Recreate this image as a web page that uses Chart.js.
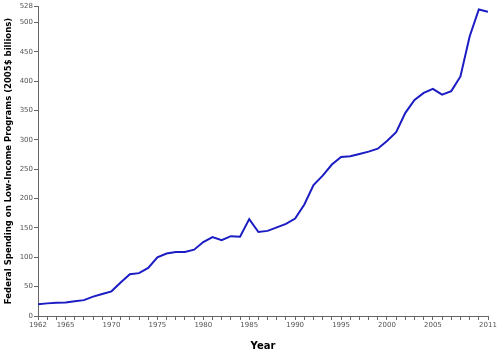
<!DOCTYPE html>
<html>
<head>
<meta charset="utf-8">
<script src="https://cdn.jsdelivr.net/npm/chart.js@4/dist/chart.umd.min.js"></script>
<style>
  html, body { margin: 0; padding: 0; background: #fff; }
  #wrap { width: 503px; height: 359px; }
</style>
</head>
<body>
<div id="wrap"><canvas id="chart"></canvas></div>
<script>
const years = [1962,1963,1964,1965,1966,1967,1968,1969,1970,1971,1972,1973,1974,1975,1976,1977,1978,1979,1980,1981,1982,1983,1984,1985,1986,1987,1988,1989,1990,1991,1992,1993,1994,1995,1996,1997,1998,1999,2000,2001,2002,2003,2004,2005,2006,2007,2008,2009,2010,2011]
const spending = [20,21.5,22.5,23,25,27,33,37.5,42,57,71,73,82,100,106.5,109,109,113,126,134.5,129,136,135,165,143,145,151,157,166,190,223,239,258,271,272,276,280,285,298,313,346,368,380,387,377,383,408,476,522,518]
const xTickLabels = [1962,1965,1970,1975,1980,1985,1990,1995,2000,2005,2011]
const yTickValues = [0,50,100,150,200,250,300,350,400,450,500,528]

function makePoints(xs, ys){
  return xs.map(function(x, i){
    return { x: x, y: ys[i] }
  })
}

const ctx = document.getElementById('chart')
const tickFont = { family: "'DejaVu Sans', sans-serif", size: 7 }

new Chart(ctx, {
  type: "line",
  data: {
    datasets: [
      {
        data: makePoints(years, spending),
        borderColor: "rgb(28, 28, 196)",
        borderWidth: 2,
        pointRadius: 0,
        tension: 0,
        fill: false
      }
    ]
  },
  options: {
    responsive: true,
    maintainAspectRatio: false,
    animation: false,
    layout: { padding: { top: 6, right: 15, left: 0, bottom: 7 } },
    plugins: { legend: { display: false }, tooltip: { enabled: false } },
    scales: {
      x: {
        type: "linear",
        min: 1962,
        max: 2011,
        afterBuildTicks: function(scale){
          scale.ticks = years.map(function(y){ return { value: y } })
        },
        afterFit: function(scale){ scale.height = 36 },
        ticks: {
          autoSkip: false,
          maxRotation: 0,
          padding: 1,
          color: "#555",
          font: tickFont,
          callback: function(v){ return xTickLabels.indexOf(v) >= 0 ? String(v) : "" }
        },
        grid: {
          drawOnChartArea: false,
          tickLength: 4,
          color: "#666"
        },
        border: { color: "#666", width: 1 },
        title: {
          display: true,
          text: "Year",
          color: "#000",
          font: { family: "'DejaVu Sans', sans-serif", size: 10, weight: "bold" },
          padding: { top: 4, bottom: 0 }
        }
      },
      y: {
        min: 0,
        max: 528,
        afterBuildTicks: function(scale){
          scale.ticks = yTickValues.map(function(v){ return { value: v } })
        },
        afterFit: function(scale){ scale.width = 38 },
        ticks: {
          autoSkip: false,
          padding: 1,
          color: "#555",
          font: tickFont
        },
        grid: {
          drawOnChartArea: false,
          tickLength: 4,
          color: "#666"
        },
        border: { color: "#666", width: 1 },
        title: {
          display: true,
          text: "Federal Spending on Low-Income Programs (2005$ billions)",
          color: "#000",
          font: { family: "'DejaVu Sans', sans-serif", size: 8.5, weight: "bold" },
          padding: { bottom: 0 }
        }
      }
    }
  }
})
</script>
</body>
</html>
